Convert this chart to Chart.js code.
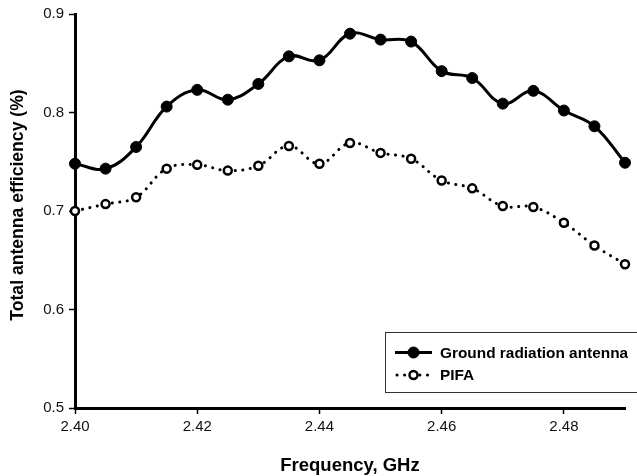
<!DOCTYPE html>
<html>
<head>
<meta charset="utf-8">
<script src="https://cdn.jsdelivr.net/npm/chart.js@4/dist/chart.umd.min.js"></script>
<style>
  html, body { margin: 0; padding: 0; background: #ffffff; }
  #wrap { width: 637px; height: 476px; }
</style>
</head>
<body>
<div id="wrap"><canvas id="c" width="637" height="476"></canvas></div>
<script>
const frequencies = [2.400, 2.405, 2.410, 2.415, 2.420, 2.425, 2.430, 2.435, 2.440, 2.445,
                     2.450, 2.455, 2.460, 2.465, 2.470, 2.475, 2.480, 2.485, 2.490];
const groundRadiation = [0.748, 0.743, 0.765, 0.806, 0.823, 0.813, 0.829, 0.857, 0.853, 0.880,
                         0.874, 0.872, 0.842, 0.835, 0.809, 0.822, 0.802, 0.786, 0.749];
const pifa = [0.700, 0.707, 0.714, 0.743, 0.747, 0.741, 0.746, 0.766, 0.748, 0.769,
              0.759, 0.753, 0.731, 0.723, 0.705, 0.704, 0.688, 0.665, 0.646];
const xTickValues = [2.40, 2.42, 2.44, 2.46, 2.48];
const yTickValues = [0.5, 0.6, 0.7, 0.8, 0.9];
const seriesNames = ['Ground radiation antenna', 'PIFA'];
const xTitle = 'Frequency, GHz';
const yTitle = 'Total antenna efficiency (%)';

const FONT = "'Liberation Sans', Arial, Helvetica, sans-serif";

const titlesPlugin = {
  id: 'axisTitles',
  afterDraw(chart) {
    const ctx = chart.ctx;
    const area = chart.chartArea;
    ctx.save();
    ctx.fillStyle = '#000';
    ctx.textAlign = 'center';
    ctx.textBaseline = 'alphabetic';
    ctx.font = 'bold 18.5px ' + FONT;
    ctx.fillText(xTitle, (area.left + area.right) / 2, 471);
    ctx.translate(23, 205);
    ctx.rotate(-Math.PI / 2);
    ctx.font = 'bold 17.6px ' + FONT;
    ctx.fillText(yTitle, 0, 0);
    ctx.restore();
  }
};

const legendPlugin = {
  id: 'boxLegend',
  afterDraw(chart) {
    const ctx = chart.ctx;
    ctx.save();
    ctx.lineWidth = 1;
    ctx.strokeStyle = '#333';
    ctx.fillStyle = '#fff';
    ctx.fillRect(385.5, 332.5, 252, 60);
    ctx.strokeRect(385.5, 332.5, 252, 60);
    const rows = [352.5, 375];
    chart.data.datasets.forEach((ds, i) => {
      const y = rows[i];
      ctx.save();
      ctx.strokeStyle = '#000';
      ctx.lineWidth = ds.borderWidth;
      ctx.lineCap = ds.borderCapStyle || 'butt';
      ctx.setLineDash(ds.borderDash || []);
      ctx.beginPath();
      ctx.moveTo(i === 0 ? 395 : 397, y);
      ctx.lineTo(432, y);
      ctx.stroke();
      ctx.setLineDash([]);
      ctx.beginPath();
      ctx.arc(413.5, y, ds.pointRadius, 0, Math.PI * 2);
      ctx.fillStyle = ds.pointBackgroundColor;
      ctx.fill();
      ctx.lineWidth = ds.pointBorderWidth;
      ctx.strokeStyle = ds.pointBorderColor;
      ctx.stroke();
      ctx.restore();
      ctx.fillStyle = '#000';
      ctx.font = 'bold 15.4px ' + FONT;
      ctx.textBaseline = 'middle';
      ctx.textAlign = 'left';
      ctx.fillText(ds.label, 440, y + 1);
    });
    ctx.restore();
  }
};

new Chart(document.getElementById('c'), {
  type: 'line',
  data: {
    datasets: [
      {
        label: seriesNames[0],
        data: frequencies.map((f, i) => ({ x: f, y: groundRadiation[i] })),
        borderColor: '#000',
        borderWidth: 3,
        tension: 0.4,
        pointRadius: 5.5,
        pointBackgroundColor: '#000',
        pointBorderColor: '#000',
        pointBorderWidth: 1,
        clip: false
      },
      {
        label: seriesNames[1],
        data: frequencies.map((f, i) => ({ x: f, y: pifa[i] })),
        borderColor: '#000',
        borderWidth: 3,
        borderDash: [0.1, 7.5],
        borderCapStyle: 'round',
        tension: 0.4,
        pointRadius: 4,
        pointBackgroundColor: '#fff',
        pointBorderColor: '#000',
        pointBorderWidth: 2.5,
        clip: false
      }
    ]
  },
  options: {
    responsive: false,
    animation: false,
    devicePixelRatio: 1,
    layout: { padding: { top: 14, right: 12, left: 0, bottom: 0 } },
    plugins: { legend: { display: false }, tooltip: { enabled: false } },
    scales: {
      x: {
        type: 'linear',
        min: 2.40,
        max: 2.49,
        afterBuildTicks(scale) { scale.ticks = xTickValues.map(v => ({ value: v })); },
        afterFit(scale) { scale.height = 68; },
        grid: { display: true, drawOnChartArea: false, drawTicks: true, tickLength: 6, tickColor: '#000', tickWidth: 1.5 },
        border: { display: true, color: '#000', width: 3 },
        ticks: {
          color: '#111',
          font: { family: FONT, size: 15 },
          padding: 4,
          maxRotation: 0,
          callback: v => Number(v).toFixed(2)
        },
        title: { display: false }
      },
      y: {
        min: 0.5,
        max: 0.9,
        afterBuildTicks(scale) { scale.ticks = yTickValues.map(v => ({ value: v })); },
        afterFit(scale) { scale.width = 75; },
        grid: { display: true, drawOnChartArea: false, drawTicks: true, tickLength: 6, tickColor: '#000', tickWidth: 1.5 },
        border: { display: true, color: '#000', width: 3 },
        ticks: {
          color: '#111',
          font: { family: FONT, size: 15 },
          padding: 5,
          callback: v => Number(v).toFixed(1)
        },
        title: { display: false }
      }
    }
  },
  plugins: [titlesPlugin, legendPlugin]
});
</script>
</body>
</html>
